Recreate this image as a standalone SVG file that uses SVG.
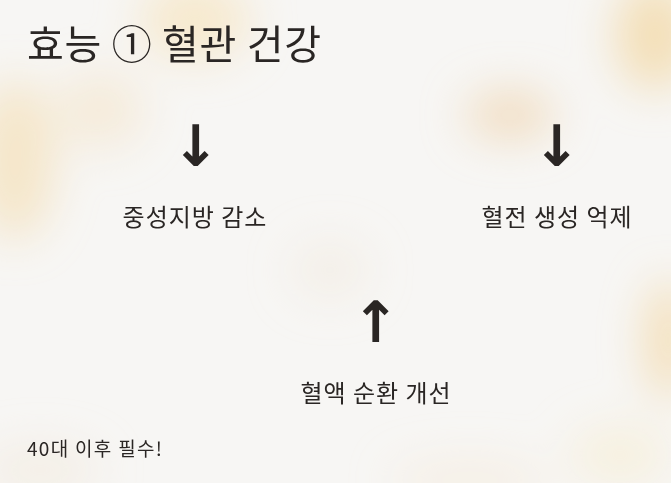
<svg xmlns="http://www.w3.org/2000/svg" width="671" height="483" viewBox="0 0 671 483">
<defs>
<filter id="blur" x="-50%" y="-50%" width="200%" height="200%"><feGaussianBlur stdDeviation="22"/></filter>
<style>
.t{font-family:"Noto Sans CJK KR","Noto Sans",sans-serif;fill:#2a2624}
.title{font-size:40px;letter-spacing:0.7px}
.lbl{font-size:24px;letter-spacing:1px;text-anchor:middle}
.arr{font-family:"DejaVu Sans",sans-serif;font-size:57px;font-weight:bold;text-anchor:middle;fill:#2a2624}
.note{font-size:19px;letter-spacing:1.3px}
</style>
</defs>
<rect width="671" height="483" fill="#f7f6f4"/>
<g id="background" filter="url(#blur)">
<ellipse cx="15" cy="160" rx="40" ry="80" fill="#f3dcae" opacity="0.6"/>
<ellipse cx="195" cy="20" rx="55" ry="40" fill="#f6e6c4" opacity="0.8"/>
<ellipse cx="100" cy="110" rx="45" ry="40" fill="#f4e4c6" opacity="0.55"/>
<ellipse cx="510" cy="115" rx="45" ry="25" fill="#efd6b2" opacity="0.75"/>
<ellipse cx="655" cy="35" rx="40" ry="55" fill="#f2d9a9" opacity="0.8"/>
<ellipse cx="668" cy="340" rx="22" ry="60" fill="#f2d8a8" opacity="0.8"/>
<ellipse cx="620" cy="455" rx="50" ry="30" fill="#f6ecd0" opacity="0.6"/>
<ellipse cx="40" cy="470" rx="60" ry="25" fill="#f2e8d8" opacity="0.5"/>
<ellipse cx="330" cy="270" rx="40" ry="30" fill="#f1e6d6" opacity="0.4"/>
<ellipse cx="470" cy="480" rx="80" ry="20" fill="#f5ead6" opacity="0.5"/>
</g>
<g id="title"><text class="t title" x="27" y="59">효능 ① 혈관 건강</text></g>
<g id="node-triglyceride">
<text class="arr" x="196" y="166">↓</text>
<text class="t lbl" x="195" y="226">중성지방 감소</text>
</g>
<g id="node-thrombus">
<text class="arr" x="557" y="166">↓</text>
<text class="t lbl" x="557" y="226">혈전 생성 억제</text>
</g>
<g id="node-circulation">
<text class="arr" x="376" y="342">↑</text>
<text class="t lbl" x="376" y="402">혈액 순환 개선</text>
</g>
<g id="connectors"></g>
<g id="footnote"><text class="t note" x="27" y="456">40대 이후 필수!</text></g>
</svg>
